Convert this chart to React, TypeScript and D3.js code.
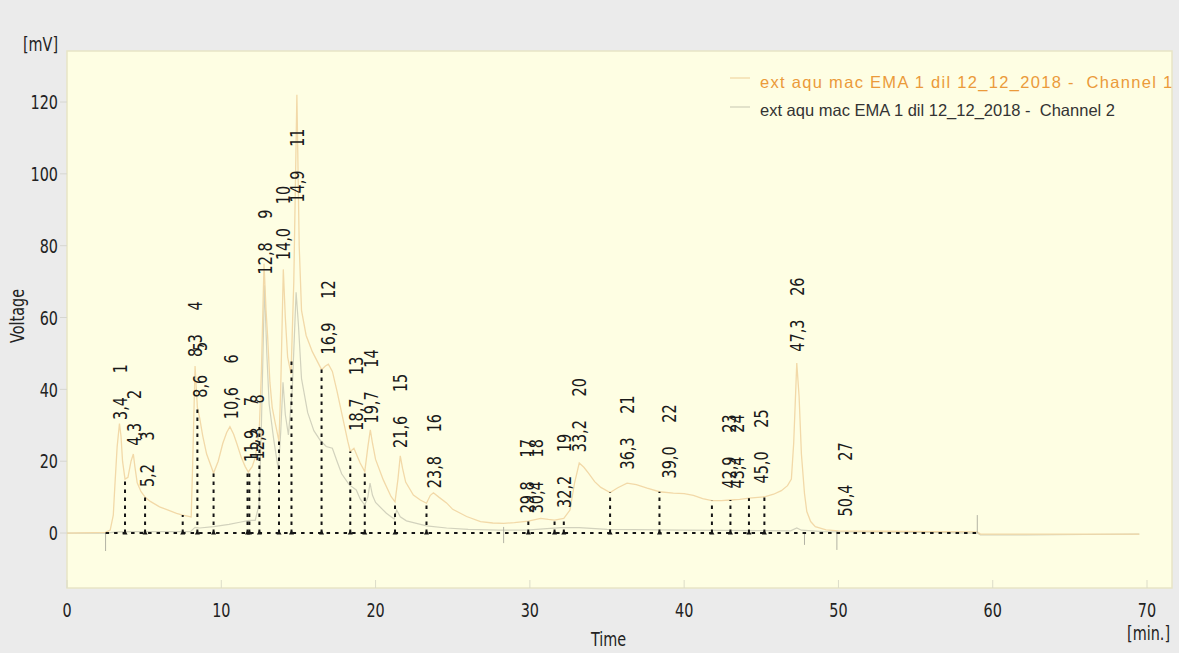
import React from 'react';
import * as d3 from 'd3';

// Channel 1 trace (time [min], voltage [mV])
const channel1: [number, number][] = [
  [0, 0], [2.5, 0.2], [2.8, 0.8], [3.0, 5], [3.1, 13], [3.25, 24], [3.4, 30.5], [3.5, 27], [3.6, 20],
  [3.76, 15], [3.95, 15.5], [4.15, 20], [4.3, 22], [4.4, 18.5], [4.55, 14], [4.8, 11.5], [5.1, 9.8],
  [5.4, 8.8], [6.0, 7.3], [6.6, 6.3], [7.1, 5.5], [7.5, 5], [8.05, 4.5], [8.15, 20], [8.3, 46.5],
  [8.45, 35], [8.6, 32], [8.8, 27], [9.05, 22], [9.5, 16.7], [9.8, 20], [10.1, 25], [10.35, 28],
  [10.56, 29.6], [10.8, 27.5], [11.0, 25], [11.3, 21], [11.55, 18.5], [11.75, 17], [12.0, 18.5],
  [12.2, 21], [12.46, 28.3], [12.6, 45], [12.77, 75], [12.9, 62], [13.0, 55], [13.15, 42], [13.3, 35],
  [13.5, 30.5], [13.74, 25.5], [13.85, 40], [14.02, 73.4], [14.15, 60], [14.3, 49], [14.52, 44.3],
  [14.7, 70], [14.9, 122], [15.05, 80], [15.2, 62], [15.5, 55], [15.9, 50.5], [16.2, 48], [16.5, 45.5],
  [16.75, 46.5], [16.94, 47], [17.2, 45], [17.5, 39.5], [17.9, 31.5], [18.2, 25.5], [18.36, 22.7],
  [18.6, 23.6], [18.8, 21.5], [19.0, 19.5], [19.3, 17.1], [19.5, 24], [19.66, 28.7], [19.8, 25],
  [20.0, 20.5], [20.5, 14.8], [21.0, 10.2], [21.26, 8.7], [21.45, 15], [21.6, 21.5], [21.75, 18],
  [21.95, 14.2], [22.45, 10.6], [22.9, 9.2], [23.3, 8.3], [23.55, 10.5], [23.75, 11.2], [24.1, 10],
  [24.6, 8.4], [25.0, 6.6], [25.9, 4.6], [26.8, 3.2], [27.6, 2.8], [28.3, 2.7], [29.0, 2.9], [29.9, 3.3],
  [30.7, 4.1], [31.2, 3.8], [31.6, 3.6], [32.2, 4.1], [32.6, 6.4], [32.9, 14], [33.2, 19.5], [33.5, 18.3],
  [33.8, 16.7], [34.2, 14.3], [34.6, 12.7], [35.2, 11.3], [35.7, 12.6], [36.3, 13.9], [36.9, 13.5],
  [37.6, 12.5], [38.4, 11.5], [39.3, 11.1], [40.0, 11.0], [40.6, 10.5], [41.2, 9.6], [41.8, 9.0],
  [42.4, 9.0], [43.0, 9.2], [43.6, 9.4], [44.2, 9.7], [45.2, 10.1], [45.8, 10.8], [46.3, 11.8],
  [46.7, 13.2], [46.95, 15], [47.1, 25], [47.3, 47.3], [47.45, 38], [47.6, 22], [47.8, 11], [47.95, 6],
  [48.2, 3.2], [48.5, 1.8], [49.2, 0.9], [50, 0.6], [53, 0.5], [56, 0.4], [59, 0.3], [59.2, -0.3],
  [64, -0.3], [69.5, -0.3],
];

// Channel 2 trace
const channel2: [number, number][] = [
  [0, 0], [2.5, 0], [3.3, 0.3], [4.3, 0.4], [6, 0.4], [8.0, 0.4], [8.3, 1.6], [8.6, 1.4], [9.5, 1.8],
  [10.5, 2.4], [11.2, 3.0], [11.8, 3.5], [12.2, 3.5], [12.45, 8], [12.6, 30], [12.8, 69], [12.95, 50],
  [13.1, 36], [13.4, 26], [13.7, 17.5], [13.85, 28], [14.0, 42], [14.15, 33], [14.35, 27.3], [14.6, 40],
  [14.85, 67], [15.0, 58], [15.2, 43], [15.6, 33.5], [16.0, 28.5], [16.4, 25.9], [16.8, 24.1],
  [17.2, 23.6], [17.5, 20], [17.8, 16.5], [18.3, 13.4], [18.75, 12], [19.0, 9.5], [19.3, 7.8],
  [19.5, 10], [19.64, 13.9], [19.8, 10.5], [20.0, 8.5], [20.7, 5.5], [21.2, 3.9], [21.37, 6.4],
  [21.6, 4.5], [22.0, 3.4], [23.3, 2.0], [24.6, 1.4], [26, 1.0], [28, 0.8], [30, 0.9], [32, 1.5],
  [33.2, 1.5], [35, 1.0], [40, 0.8], [45, 0.7], [46.9, 0.6], [47.3, 1.4], [47.6, 0.8], [49, 0.4],
  [52, 0.3], [56, 0.2], [59, 0], [59.2, -0.5], [62, -0.5], [66, -0.4], [69.5, -0.3],
];

// Peak annotations
const peakNumbers = [1, 2, 3, 4, 5, 6, 7, 8, 9, 10, 11, 12, 13, 14, 15, 16, 17, 18, 19, 20, 21, 22, 23, 24, 25, 26, 27];
const peakTimes = [3.4, 4.3, 5.2, 8.3, 8.6, 10.6, 11.9, 12.3, 12.8, 14.0, 14.9, 16.9, 18.7, 19.7, 21.6, 23.8, 29.8, 30.4, 32.2, 33.2, 36.3, 39.0, 42.9, 43.4, 45.0, 47.3, 50.4];
const peakLabelHeights = [31.5, 24.3, 12.8, 49, 37.7, 31.7, 19.8, 20.5, 72, 76, 92, 49.7, 28.5, 30.5, 23.7, 12.5, 5.5, 5.5, 7, 22.5, 17.7, 15.2, 12.4, 12.4, 13.8, 50.5, 4.6];

// Peak boundary drop lines (time)
const dropTimes = [3.76, 5.06, 7.5, 8.45, 9.5, 11.7, 11.82, 12.47, 13.74, 14.55, 16.5, 18.36, 19.3, 21.26, 23.3, 29.9, 31.6, 32.2, 35.2, 38.4, 41.8, 43.0, 44.2, 45.2];
const baselineRange = [2.5, 59.0];

// Event markers: time, from, to (mV)
const markerTimes = [2.5, 28.3, 47.8, 49.9, 59.0];
const markerFrom = [0, 1.7, 0, 0.5, 5];
const markerTo = [-5, -2.8, -3.3, -4.7, 0];

const xTicks = [0, 10, 20, 30, 40, 50, 60, 70];
const yTicks = [0, 20, 40, 60, 80, 100, 120];
const legendLabels = [
  'ext aqu mac EMA 1 dil 12_12_2018 -  Channel 1',
  'ext aqu mac EMA 1 dil 12_12_2018 -  Channel 2',
];

const FONT = "'DejaVu Sans', Verdana, sans-serif";
const SX = 0.72;

export default function App() {
  const W = 1179, H = 653;
  const L = 67, R = 1172, T = 51, B = 588;
  const x = d3.scaleLinear().domain([0, 71.62]).range([L, R]);
  const y = d3.scaleLinear().domain([-15.3, 134.2]).range([B, T]);
  const line = d3.line<[number, number]>().x(d => x(d[0])).y(d => y(d[1]));
  const bis = d3.bisector((d: [number, number]) => d[0]).left;
  const interp = (t: number) => {
    const i = bis(channel1, t);
    if (i <= 0) return channel1[0][1];
    if (i >= channel1.length) return channel1[channel1.length - 1][1];
    const a = channel1[i - 1], b = channel1[i];
    return a[1] + (b[1] - a[1]) * (t - a[0]) / (b[0] - a[0]);
  };
  const fmt = (v: number) => v.toFixed(1).replace('.', ',');
  const c1 = '#f2d9a8';
  const c2 = '#d2d2bd';

  return (
    <svg width={W} height={H} style={{ position: 'absolute', left: 0, top: 0 }} fontFamily={FONT}>
      <defs>
        <clipPath id="plotclip"><rect x={L} y={T} width={R - L} height={B - T} /></clipPath>
      </defs>
      <rect x={0} y={0} width={W} height={H} fill="#ebebeb" />
      <rect x={L} y={T} width={R - L} height={B - T} fill="#fefee3" stroke="#e8e5c6" strokeWidth={1.5} />

      {/* y axis ticks & labels */}
      {yTicks.map(v => (
        <g key={'y' + v}>
          <line x1={L - 7} x2={L} y1={y(v)} y2={y(v)} stroke="#d6d6d0" />
          <text transform={`translate(${L - 9},${y(v)}) scale(${SX},1)`} textAnchor="end" dy="0.36em" fontSize={20} fill="#222">{v}</text>
        </g>
      ))}
      {/* x axis ticks & labels */}
      {xTicks.map(v => (
        <g key={'x' + v}>
          <line x1={x(v)} x2={x(v)} y1={B} y2={B - 8} stroke="#dcdcc8" />
          <text transform={`translate(${x(v)},${B + 29}) scale(${SX},1)`} textAnchor="middle" fontSize={20} fill="#222">{v}</text>
        </g>
      ))}
      <text transform={`translate(58,${T}) scale(${SX},1)`} textAnchor="end" fontSize={20} fill="#222">[mV]</text>
      <text transform={`translate(24,316) rotate(-90) scale(${SX},1)`} textAnchor="middle" fontSize={20} fill="#222">Voltage</text>
      <text transform={`translate(${x(35.1)},${H - 7}) scale(${SX},1)`} textAnchor="middle" fontSize={20} fill="#222">Time</text>
      <text transform={`translate(${R - 2},${B + 52}) scale(${SX},1)`} textAnchor="end" fontSize={20} fill="#222">[min.]</text>

      <g clipPath="url(#plotclip)">
        {/* traces */}
        <path d={line(channel2) || ''} fill="none" stroke={c2} strokeWidth={1.2} />
        <path d={line(channel1) || ''} fill="none" stroke={c1} strokeWidth={1.3} />

        {/* event markers */}
        {markerTimes.map((t, i) => (
          <line key={'m' + i} x1={x(t)} x2={x(t)} y1={y(markerFrom[i])} y2={y(markerTo[i])} stroke="#b3b3a4" strokeWidth={1} />
        ))}

        {/* baseline */}
        <line x1={x(baselineRange[0])} x2={x(baselineRange[1])} y1={y(0)} y2={y(0)} stroke="#151515" strokeWidth={2} strokeDasharray="3.5 5" />
        {dropTimes.map((t, i) => (
          <g key={'d' + i}>
            <line x1={x(t)} x2={x(t)} y1={y(0)} y2={y(interp(t))} stroke="#151515" strokeWidth={2} strokeDasharray="3.5 4.5" />
            <path d={`M${x(t) - 2.5},${y(0) + 1.5} L${x(t) + 2.5},${y(0) + 1.5} L${x(t)},${y(0) - 3} Z`} fill="#151515" />
          </g>
        ))}

        {/* peak labels */}
        {peakNumbers.map((n, i) => (
          <text key={'p' + n} transform={`translate(${x(peakTimes[i])},${y(peakLabelHeights[i])}) rotate(-90) scale(${SX},1)`} dy="0.36em" fontSize={20} fill="#1a1a1a">
            <tspan>{fmt(peakTimes[i])}</tspan>
            <tspan dx={33}>{n}</tspan>
          </text>
        ))}

        {/* legend */}
        <line x1={730} x2={750} y1={78} y2={78} stroke={c1} strokeWidth={1.3} />
        <line x1={730} x2={750} y1={107} y2={107} stroke={c2} strokeWidth={1.3} />
        <text x={760} y={88} fontFamily="'Liberation Sans', Arial, sans-serif" fontSize={16.5} letterSpacing={1.3} fill="#eb9a3a" style={{ whiteSpace: 'pre' }}>{legendLabels[0]}</text>
        <text x={760} y={116} fontFamily="'Liberation Sans', Arial, sans-serif" fontSize={16.5} fill="#333" style={{ whiteSpace: 'pre' }}>{legendLabels[1]}</text>
      </g>
    </svg>
  );
}
